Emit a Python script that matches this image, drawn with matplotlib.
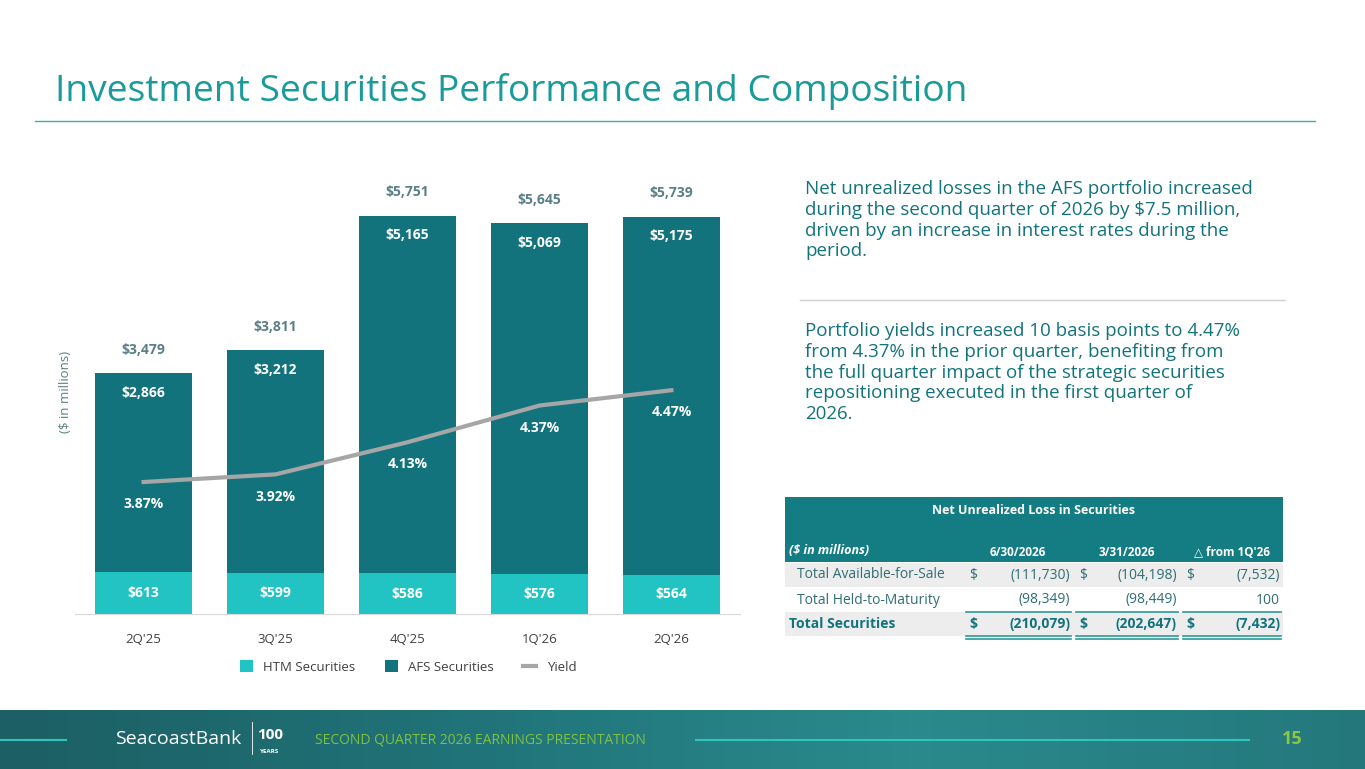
import matplotlib
matplotlib.use("Agg")
import matplotlib.pyplot as plt
from matplotlib.patches import Rectangle
from matplotlib.colors import LinearSegmentedColormap
import numpy as np

plt.rcParams['font.family'] = ['Open Sans', 'DejaVu Sans']

quarters = ["2Q'25", "3Q'25", "4Q'25", "1Q'26", "2Q'26"]
htm = [613, 599, 586, 576, 564]
afs = [2866, 3212, 5165, 5069, 5175]
totals = [3479, 3811, 5751, 5645, 5739]
yields = [3.87, 3.92, 4.13, 4.37, 4.47]

tbl_cols = ["($ in millions)", "6/30/2026", "3/31/2026", "\u25b3 from 1Q'26"]
tbl_rows = ["Total Available-for-Sale", "Total Held-to-Maturity", "Total Securities"]
tbl_vals = [["(111,730)", "(104,198)", "(7,532)"],
            ["(98,349)", "(98,449)", "100"],
            ["(210,079)", "(202,647)", "(7,432)"]]

W, H = 1365, 769
fig = plt.figure(figsize=(W/100, H/100), dpi=100)
def fx(px): return px / W
def fy(py): return 1 - py / H

TEAL = '#1A9A9A'
DARK = '#12737D'
CYAN = '#22C3C3'
GRAY = '#A6A6A6'
LBL = '#5B7F86'

# Title
fig.text(fx(55), fy(92), "Investment Securities Performance and Composition", fontsize=26.7,
         color=TEAL, va='center', ha='left')
fig.add_artist(plt.Line2D([fx(35), fx(1315)], [fy(121), fy(121)], color='#3AAFA9', lw=1))

# Chart
ax = fig.add_axes([fx(75), fy(614), fx(740) - fx(75), fy(170) - fy(614)])
x = np.arange(len(quarters))
bw = 0.74
ax.bar(x, htm, bw, color=CYAN, label='HTM Securities')
ax.bar(x, afs, bw, bottom=htm, color=DARK, label='AFS Securities')
ax.set_ylim(0, 6416)
ax.set_xlim(-0.52, 4.52)
for s in ['top', 'right', 'left']:
    ax.spines[s].set_visible(False)
ax.spines['bottom'].set_color('#D9D9D9')
ax.set_yticks([])
ax.set_xticks(x)
ax.set_xticklabels(quarters, fontsize=9.5, color='#404040')
ax.tick_params(axis='x', length=0, pad=14)
ax.set_ylabel("($ in millions)", fontsize=9.5, color=LBL, labelpad=2)
for i in range(len(x)):
    ax.text(x[i], htm[i] / 2, f"${htm[i]:,}", ha='center', va='center', color='white',
            fontsize=10, fontweight='bold')
    ax.annotate(f"${afs[i]:,}", (x[i], htm[i] + afs[i]), xytext=(0, -14), textcoords='offset points',
                ha='center', va='center', color='white', fontsize=10, fontweight='bold')
    ax.annotate(f"${totals[i]:,}", (x[i], htm[i] + afs[i]), xytext=(0, 17), textcoords='offset points',
                ha='center', va='center', color=LBL, fontsize=10, fontweight='bold')

ax2 = ax.twinx()
ax2.plot(x, yields, color=GRAY, lw=3, label='Yield')
ax2.set_ylim(3.007, 5.91)
ax2.axis('off')
for i in range(len(x)):
    ax2.annotate(f"{yields[i]:.2f}%", (x[i], yields[i]), xytext=(0, -16), textcoords='offset points',
                 ha='center', va='center', color='white', fontsize=10, fontweight='bold')

# Legend
h1, l1 = ax.get_legend_handles_labels()
h2, l2 = ax2.get_legend_handles_labels()
fig.legend(h1 + h2, l1 + l2, loc='center', bbox_to_anchor=(fx(408), fy(667)), ncol=3, frameon=False,
           fontsize=9.5, handlelength=1.0, handleheight=1.0, columnspacing=2.2, labelcolor='#404040')

# Right text
txt1 = ("Net unrealized losses in the AFS portfolio increased\nduring the second quarter of 2026 by $7.5 million,\n"
        "driven by an increase in interest rates during the\nperiod.")
txt2 = ("Portfolio yields increased 10 basis points to 4.47%\nfrom 4.37% in the prior quarter, benefiting from\n"
        "the full quarter impact of the strategic securities\nrepositioning executed in the first quarter of\n2026.")
fig.text(fx(805), fy(180), txt1, fontsize=13.5, color=DARK, va='top', ha='left', linespacing=1.2)
fig.add_artist(plt.Line2D([fx(800), fx(1285)], [fy(300), fy(300)], color='#D0D0D0', lw=1))
fig.text(fx(805), fy(322), txt2, fontsize=13.5, color=DARK, va='top', ha='left', linespacing=1.2)

# Table
def rect(x0, y0, x1, y1, color):
    fig.add_artist(Rectangle((fx(x0), fy(y1)), fx(x1) - fx(x0), fy(y0) - fy(y1), color=color, lw=0))
rect(785, 497, 1283, 562, '#137D83')
fig.text(fx(1034), fy(511), "Net Unrealized Loss in Securities", color='white', fontsize=9,
         fontweight='bold', ha='center', va='center')
col_edges = [(785, 963), (963, 1073), (1073, 1180), (1180, 1283)]
fig.text(fx(789), fy(551), tbl_cols[0], color='white', fontsize=9, fontweight='bold', style='italic',
         ha='left', va='center')
for j in range(1, 4):
    c = (col_edges[j][0] + col_edges[j][1]) / 2
    fig.text(fx(c), fy(552), tbl_cols[j], color='white', fontsize=8.5, fontweight='bold', ha='center', va='center')
row_y = [575, 600, 624]
row_bg = ['#EDEDED', 'white', '#EDEDED']
for r in range(3):
    rect(785, row_y[r] - 12, 1283, row_y[r] + 12, row_bg[r])
    bold = 'bold' if r == 2 else 'normal'
    fig.text(fx(797 if r < 2 else 789), fy(row_y[r]), tbl_rows[r], color=DARK if r == 2 else '#2F6E74',
             fontsize=10, fontweight=bold, ha='left', va='center')
    for j in range(3):
        x0, x1 = col_edges[j + 1]
        if r != 1:
            fig.text(fx(x0 + 6), fy(row_y[r]), "$", color='#2F6E74' if r < 2 else DARK, fontsize=10,
                     fontweight=bold, ha='left', va='center')
        fig.text(fx(x1 - 3), fy(row_y[r]), tbl_vals[r][j], color='#2F6E74' if r < 2 else DARK, fontsize=10,
                 fontweight=bold, ha='right', va='center')
for j in range(1, 4):
    x0, x1 = col_edges[j]
    for yy in (612, 636, 639):
        fig.add_artist(plt.Line2D([fx(x0 + 3), fx(x1 - 2)], [fy(yy), fy(yy)], color='#2A9A96', lw=1.2))

# Footer band
grad = np.linspace(0, 1, 256).reshape(1, -1)
fax = fig.add_axes([0, fy(769), 1, fy(710) - fy(769)])
cm = LinearSegmentedColormap.from_list('f', ['#1C5F64', '#207378', '#2A8A8C', '#24787C'])
fax.imshow(grad, aspect='auto', cmap=cm, extent=[0, 1, 0, 1])
fax.set_xlim(0, 1); fax.set_ylim(0, 1); fax.axis('off')
fax.plot([0, 0.048], [0.5, 0.5], color='#2EC4C0', lw=1.5)
fax.plot([0.51, 0.915], [0.5, 0.5], color='#2EC4C0', lw=1.5)
fax.text(fx(115), 0.5, "SeacoastBank", color='white', fontsize=14, va='center', ha='left')
fax.plot([fx(252), fx(252)], [0.25, 0.8], color='white', lw=0.6)
fax.text(fx(270), 0.58, "100", color='white', fontsize=11, fontweight='bold', va='center', ha='center')
fax.text(fx(270), 0.3, "YEARS", color='white', fontsize=4.5, fontweight='bold', va='center', ha='center')
fax.text(fx(315), 0.5, "SECOND QUARTER 2026 EARNINGS PRESENTATION", color='#7FC241', fontsize=10,
         va='center', ha='left')
fax.text(fx(1292), 0.5, "15", color='#8DC63F', fontsize=13, fontweight='bold', va='center', ha='center')

fig.savefig("out.png", dpi=100)
